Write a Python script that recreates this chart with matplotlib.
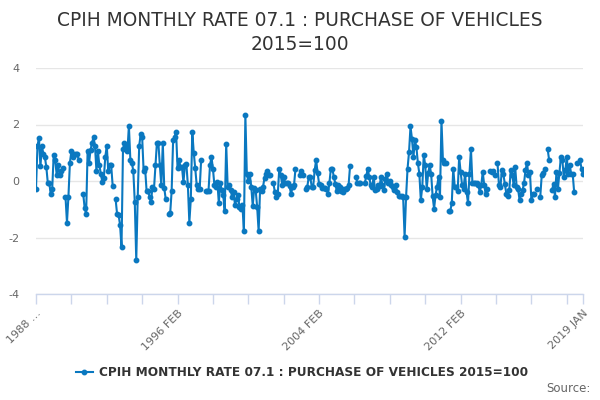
import matplotlib

matplotlib.use("Agg")
import matplotlib.pyplot as plt
from matplotlib.lines import Line2D
import numpy as np
import pandas as pd

# monthly categories, 1988 FEB .. 2019 JAN
months = pd.period_range("1988-02", "2019-01", freq="M")

# CPIH monthly rate (%); None = no value published
rate = [
    -0.27, 1.24, 1.53, 0.52, 1.24, 0.96, 0.85, 0.5, -0.07, -0.07, -0.47, -0.27,
    0.93, 0.75, 0.23, 0.55, 0.22, 0.35, 0.45, None, -0.55, -1.47, -0.55, 0.65,
    1.05, 0.85, 0.95, 0.95, 0.95, 0.75, None, None, -0.45, -0.95, -1.17, 1.05,
    0.65, 1.1, 1.35, 1.55, 1.25, 0.35, 1.05, 0.55, 0.25, -0.05, 0.1, 0.85,
    1.25, 0.35, 0.55, 0.55, -0.17, None, -0.65, -1.17, -1.2, -1.55, -2.35, 1.13,
    1.35, 1.2, 1.05, 1.95, 0.75, 0.65, 0.35, -0.75, -2.8, -0.55, 1.25, 1.65,
    1.55, 0.35, 0.45, -0.35, -0.35, -0.55, -0.75, -0.2, -0.3, 0.55, 1.35, 1.35,
    0.55, -0.15, 1.35, -0.25, -0.65, None, -1.17, -1.15, -0.35, 1.45, 1.55, 1.75,
    0.45, 0.75, 0.5, 0.5, -0.05, 0.55, 0.6, -0.15, -1.47, -0.65, 1.75, 1.0,
    0.45, -0.15, -0.3, -0.3, 0.75, None, None, -0.36, -0.36, -0.36, 0.55, 0.85,
    0.44, -0.15, -0.2, -0.03, -0.78, -0.07, -0.33, -0.5, -1.07, 1.32, -0.2, -0.15,
    -0.33, -0.56, -0.39, -0.86, -0.62, -0.5, -0.92, -0.98, -0.85, -1.78, 2.34, 0.24,
    0.0, 0.24, -0.2, -0.88, -0.25, -0.33, -0.92, -1.78, -0.27, -0.36, -0.2, 0.12,
    0.26, 0.34, 0.22, 0.22, None, -0.07, -0.39, -0.56, -0.45, 0.44, 0.2, -0.13,
    0.14, -0.07, -0.07, -0.07, -0.19, -0.47, -0.2, -0.15, 0.44, None, None, 0.2,
    0.35, 0.2, None, -0.27, -0.2, 0.14, 0.14, -0.2, -0.2, 0.38, 0.75, 0.28,
    -0.09, -0.15, -0.24, -0.24, -0.25, -0.27, -0.47, -0.07, 0.44, 0.44, 0.14, -0.09,
    -0.36, -0.15, -0.2, -0.36, -0.39, -0.3, -0.27, -0.25, -0.15, 0.53, None, None,
    None, 0.14, -0.07, -0.07, -0.07, None, None, -0.07, 0.16, 0.44, 0.14, -0.15,
    -0.2, 0.14, -0.33, -0.3, -0.15, -0.19, 0.14, -0.15, -0.33, 0.08, 0.24, -0.07,
    0.0, -0.15, -0.2, -0.33, -0.15, -0.39, -0.54, -0.54, -0.54, -0.55, -1.98, -0.56,
    0.44, 1.02, 1.93, 1.49, 0.85, 1.44, 1.2, 0.64, 0.26, -0.68, -0.2, 0.93,
    0.55, -0.27, 0.28, 0.55, 0.26, -0.54, -0.98, -0.5, -0.2, 0.14, -0.56, 2.14,
    0.73, 0.64, 0.64, None, -1.07, -1.06, -0.78, 0.44, -0.2, -0.2, -0.36, 0.85,
    0.32, -0.15, -0.27, 0.26, -0.39, -0.78, 0.24, 1.14, -0.07, -0.07, -0.07, -0.07,
    -0.15, -0.39, -0.15, 0.32, -0.15, -0.47, -0.27, None, 0.35, 0.32, 0.35, 0.2,
    None, 0.64, -0.15, -0.2, 0.4, 0.24, -0.1, -0.45, -0.54, -0.33, 0.4, 0.2,
    -0.15, 0.49, -0.2, -0.3, -0.68, -0.45, -0.33, -0.07, 0.38, 0.64, 0.2, 0.32,
    -0.68, -0.45, -0.45, None, -0.27, None, -0.56, 0.2, 0.28, 0.44, None, 1.14,
    0.75, None, -0.33, -0.09, -0.56, 0.32, -0.27, 0.28, 0.85, 0.73, 0.14, 0.38,
    0.85, 0.26, 0.55, 0.26, 0.26, -0.39, None, 0.64, None, 0.73, 0.44, 0.24,
]

label_months = ["1988-02", "1996-02", "2004-02", "2012-02", "2019-01"]
label_text = ["1988 \u2026", "1996 FEB", "2004 FEB", "2012 FEB", "2019 JAN"]
y_ticks = [-4, -2, 0, 2, 4]

series_name = "CPIH MONTHLY RATE 07.1 : PURCHASE OF VEHICLES 2015=100"
blue = "#0a78c0"
axis_col = "#ccd6eb"
grid_col = "#e6e6e6"
text_col = "#333333"
label_col = "#666666"

x = np.arange(len(months))
y = np.array([np.nan if v is None else v for v in rate], dtype=float)

fig = plt.figure(figsize=(6, 4), dpi=100)
ax = fig.add_axes([36 / 600, 106 / 400, 547 / 600, 226 / 400])

ax.plot(x, y, color=blue, lw=1.5, marker="o", ms=3.2, mec=blue, mfc=blue,
        solid_joinstyle="round")

ax.set_xlim(0, len(months) - 1)
ax.set_ylim(-4, 4)
ax.set_yticks(y_ticks)
ax.set_yticklabels([str(v) for v in y_ticks])
ax.grid(True, axis="y", color=grid_col, lw=1)
ax.set_axisbelow(True)

# x ticks every 24 months plus the final month; labels on a few of them
tick_pos = list(range(0, len(months), 24)) + [len(months) - 1]
label_pos = [months.get_loc(pd.Period(m, freq="M")) for m in label_months]
tick_lab = [label_text[label_pos.index(p)] if p in label_pos else ""
            for p in tick_pos]
ax.set_xticks(tick_pos)
ax.set_xticklabels(tick_lab, rotation=45, ha="right", va="top",
                   rotation_mode="anchor")

for s in ("top", "right", "left"):
    ax.spines[s].set_visible(False)
ax.spines["bottom"].set_color(axis_col)
ax.spines["bottom"].set_linewidth(1)
ax.tick_params(axis="x", direction="out", length=7.2, width=1,
               color=axis_col, labelsize=8, labelcolor=label_col, pad=3)
ax.tick_params(axis="y", length=0, labelsize=8, labelcolor=label_col, pad=12)

fig.text(0.5, 1 - 20 / 400, "CPIH MONTHLY RATE 07.1 : PURCHASE OF VEHICLES",
         ha="center", va="center", fontsize=13.4, color=text_col)
fig.text(0.5, 1 - 44 / 400, "2015=100",
         ha="center", va="center", fontsize=13.4, color=text_col)

handle = Line2D([0], [0], color=blue, lw=1.5, marker="o", ms=3.2)
fig.legend([handle], [series_name], loc="center",
           bbox_to_anchor=(302 / 600, 1 - 373 / 400), frameon=False,
           handlelength=1.35, handletextpad=0.5,
           prop={"size": 8.7, "weight": "bold"}, labelcolor=text_col)

fig.text(0.985, 1 - 389 / 400, "Source:", ha="right", va="center",
         fontsize=8.5, color=label_col)

fig.savefig("out.png", dpi=100)
plt.close(fig)
